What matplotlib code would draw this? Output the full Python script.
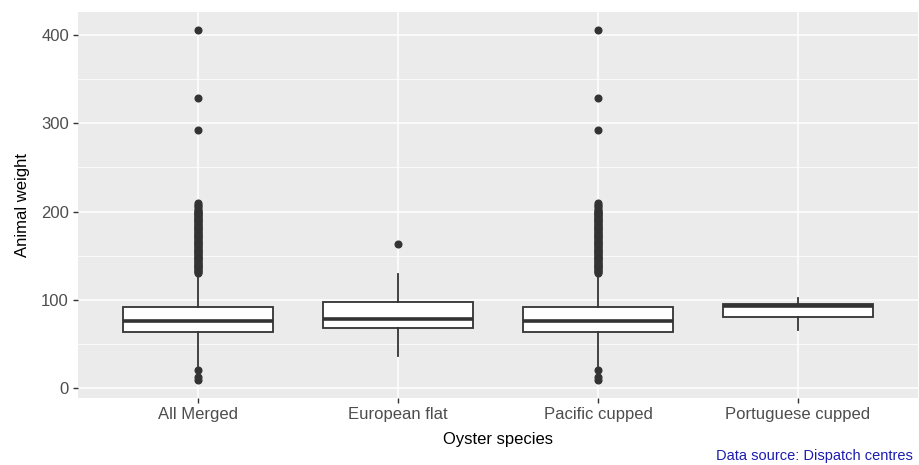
import matplotlib
matplotlib.use("Agg")
import matplotlib.pyplot as plt
from matplotlib.ticker import MultipleLocator

plt.rcParams["font.family"] = ["Liberation Sans", "DejaVu Sans"]

# Per-species summary statistics of animal weight
species = ["All Merged", "European flat", "Pacific cupped", "Portuguese cupped"]
q1 = [63.8, 68.7, 63.8, 81.0]
median = [75.9, 78.2, 75.9, 93.0]
q3 = [92.1, 97.8, 92.1, 96.0]
whisker_low = [25.0, 37.0, 25.0, 66.0]
whisker_high = [130.0, 130.0, 130.0, 102.5]

# Outlying weights above and below the whiskers
heavy_outliers = [131, 132, 133, 134, 135, 136, 137, 138, 139, 140, 141, 142,
                  143, 144, 145, 146, 147, 148, 149, 150, 151, 152, 153, 154,
                  155, 156, 157, 158, 159, 160, 161, 162, 163, 164, 165, 166,
                  167, 168, 169, 170, 171, 172, 173, 174, 175, 176, 177, 178,
                  179, 180, 181, 182, 183, 184, 185, 186, 187, 188, 189, 190,
                  191, 192, 193, 194, 195, 196, 197, 198, 199, 200, 201, 202,
                  204, 206, 208, 210, 292, 329, 406]
light_outliers = [21, 13, 10]
outliers = [
    heavy_outliers + light_outliers,
    [163],
    heavy_outliers + light_outliers,
    [],
]

stats = []
for i, name in enumerate(species):
    stats.append(dict(label=name, q1=q1[i], med=median[i], q3=q3[i],
                      whislo=whisker_low[i], whishi=whisker_high[i],
                      fliers=outliers[i]))

W, H = 919, 465
fig = plt.figure(figsize=(W / 100, H / 100), dpi=100)
ax = fig.add_axes([78 / W, (H - 398) / H, 840 / W, 386 / H])
ax.set_facecolor("#EBEBEB")

line_col = "#333333"
ax.bxp(stats, positions=range(1, len(species) + 1), widths=0.75,
       patch_artist=True, zorder=3,
       boxprops=dict(facecolor="white", edgecolor=line_col, linewidth=1.3),
       medianprops=dict(color=line_col, linewidth=2.6),
       whiskerprops=dict(color=line_col, linewidth=1.3),
       capprops=dict(linewidth=0),
       flierprops=dict(marker="o", markersize=4.8, markerfacecolor=line_col,
                       markeredgecolor=line_col, linestyle="none"))

ax.set_xlim(0.4, len(species) + 0.6)
ax.set_ylim(-10.85, 425.9)
ax.yaxis.set_major_locator(MultipleLocator(100))
ax.yaxis.set_minor_locator(MultipleLocator(50))
ax.set_xticks(range(1, len(species) + 1))
ax.set_xticklabels(species)

ax.grid(True, which="major", color="white", linewidth=1.1, zorder=0)
ax.grid(True, which="minor", axis="y", color="white", linewidth=0.55, zorder=0)
ax.set_axisbelow(True)
for s in ax.spines.values():
    s.set_visible(False)

ax.tick_params(axis="both", which="major", length=3.5, width=1.0,
               color=line_col, labelcolor="#4D4D4D", labelsize=12, pad=3)
ax.tick_params(axis="y", which="minor", length=0)

ax.set_xlabel("Oyster species", fontsize=12, color="black", labelpad=7)
ax.set_ylabel("Animal weight", fontsize=12, color="black", labelpad=8)

fig.text(913 / W, 1 - 456 / H, "Data source: Dispatch centres",
         ha="right", va="center", fontsize=10.5, color="#1C1CB0")

fig.savefig("out.png", dpi=100)
